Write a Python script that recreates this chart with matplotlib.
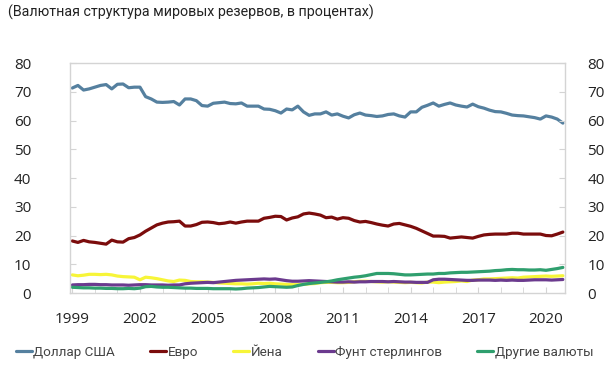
import matplotlib.pyplot as plt
import numpy as np

# Валютная структура мировых резервов, поквартально 1999 Q1 - 2020 Q4
dollar = [71.3, 72.2, 70.6, 71.0, 71.6, 72.2, 72.5, 71.0, 72.6, 72.7, 71.4, 71.6,
          71.6, 68.3, 67.5, 66.4, 66.3, 66.4, 66.6, 65.4, 67.5, 67.5, 66.9, 65.2,
          65.0, 66.0, 66.2, 66.4, 65.9, 65.8, 66.1, 65.0, 65.0, 65.0, 64.0, 63.9,
          63.4, 62.6, 64.0, 63.7, 65.0, 63.0, 61.8, 62.3, 62.3, 63.0, 61.9, 62.3,
          61.5, 60.9, 62.0, 62.6, 61.9, 61.7, 61.4, 61.6, 62.1, 62.3, 61.6, 61.2,
          63.0, 63.0, 64.6, 65.3, 66.1, 65.0, 65.6, 66.1, 65.4, 65.0, 64.7, 65.7,
          64.8, 64.3, 63.6, 63.1, 63.0, 62.5, 61.9, 61.7, 61.6, 61.3, 61.0, 60.5,
          61.6, 61.2, 60.5, 59.1]
euro = [18.1, 17.6, 18.3, 17.8, 17.6, 17.3, 17.0, 18.4, 17.8, 17.7, 18.9, 19.3,
        20.2, 21.5, 22.6, 23.7, 24.3, 24.7, 24.8, 25.0, 23.3, 23.3, 23.8, 24.6,
        24.7, 24.5, 24.1, 24.3, 24.7, 24.3, 24.7, 25.0, 25.0, 25.0, 26.0, 26.3,
        26.7, 26.6, 25.4, 26.1, 26.5, 27.5, 27.8, 27.5, 27.1, 26.2, 26.4, 25.7,
        26.2, 26.0, 25.2, 24.7, 24.9, 24.5, 24.0, 23.6, 23.3, 24.0, 24.2, 23.7,
        23.2, 22.5, 21.6, 20.7, 19.8, 19.8, 19.7, 19.1, 19.3, 19.5, 19.3, 19.1,
        19.7, 20.2, 20.4, 20.5, 20.5, 20.5, 20.8, 20.8, 20.5, 20.5, 20.5, 20.5,
        20.0, 19.9, 20.5, 21.2]
yen = [6.3, 6.0, 6.2, 6.5, 6.5, 6.4, 6.5, 6.3, 5.9, 5.7, 5.6, 5.5,
       4.6, 5.5, 5.3, 5.0, 4.6, 4.2, 4.0, 4.5, 4.4, 4.0, 3.9, 3.9,
       3.8, 3.7, 3.5, 3.4, 3.3, 3.2, 3.2, 3.1, 3.2, 3.4, 3.3, 3.4,
       3.2, 3.1, 3.0, 2.9, 2.9, 3.0, 3.2, 3.3, 3.6, 3.7, 3.7, 3.6,
       3.6, 3.7, 3.9, 4.1, 4.1, 4.0, 3.9, 3.8, 3.9, 3.8, 3.7, 3.6,
       3.7, 3.6, 3.5, 3.8, 3.8, 3.6, 3.8, 3.9, 4.0, 4.2, 4.0, 4.5,
       4.6, 4.9, 4.9, 5.0, 5.1, 5.2, 5.3, 5.2, 5.5, 5.6, 5.7, 5.8,
       5.9, 5.8, 5.9, 6.0]
pound = [2.8, 2.9, 2.9, 3.0, 3.0, 2.9, 2.9, 2.8, 2.8, 2.8, 2.7, 2.8,
         2.9, 2.9, 2.8, 2.8, 2.8, 2.7, 2.8, 2.8, 3.2, 3.4, 3.5, 3.6,
         3.7, 3.6, 3.8, 4.0, 4.2, 4.4, 4.5, 4.6, 4.7, 4.8, 4.9, 4.8,
         4.9, 4.6, 4.3, 4.1, 4.1, 4.2, 4.3, 4.2, 4.1, 4.0, 3.9, 3.8,
         3.8, 3.9, 3.8, 3.9, 3.9, 4.0, 4.0, 4.0, 3.9, 4.0, 3.9, 3.8,
         3.8, 3.7, 3.7, 3.7, 4.6, 4.8, 4.8, 4.7, 4.6, 4.5, 4.4, 4.4,
         4.5, 4.5, 4.5, 4.4, 4.5, 4.4, 4.5, 4.4, 4.4, 4.5, 4.6, 4.6,
         4.6, 4.5, 4.6, 4.7]
other = [2.0, 1.9, 1.8, 1.8, 1.7, 1.7, 1.6, 1.6, 1.5, 1.5, 1.6, 1.5,
         1.7, 2.2, 2.3, 2.1, 2.0, 2.0, 1.9, 1.8, 1.7, 1.7, 1.6, 1.6,
         1.6, 1.5, 1.5, 1.5, 1.5, 1.4, 1.5, 1.7, 1.8, 1.9, 2.1, 2.3,
         2.2, 2.1, 2.0, 2.1, 2.6, 3.0, 3.3, 3.5, 3.7, 3.9, 4.2, 4.6,
         4.9, 5.2, 5.5, 5.7, 6.0, 6.4, 6.8, 6.8, 6.8, 6.7, 6.5, 6.3,
         6.3, 6.4, 6.5, 6.6, 6.6, 6.8, 6.8, 7.0, 7.1, 7.2, 7.2, 7.3,
         7.4, 7.5, 7.6, 7.8, 7.9, 8.1, 8.2, 8.1, 8.1, 8.0, 8.0, 8.1,
         7.9, 8.2, 8.5, 8.9]

quarters = 1999 + np.arange(len(dollar)) / 4
year_labels = [1999, 2002, 2005, 2008, 2011, 2014, 2017, 2020]

series = [(dollar, "Доллар США", "#55809f"),
          (euro, "Евро", "#7b0c0c"),
          (yen, "Йена", "#f7f538"),
          (pound, "Фунт стерлингов", "#6b3a8e"),
          (other, "Другие валюты", "#2f9f6e")]

grey = "#d4d4d4"

fig = plt.figure(figsize=(6.09, 3.67), dpi=100)
ax = fig.add_axes([0.115, 0.2016, 0.813, 0.6267])

for vals, name, col in series:
    ax.plot(quarters, vals, color=col, lw=2.3, label=name, solid_capstyle="round")

ax.set_ylim(0, 80)
ax.set_xlim(1998.9, 2020.85)
ax.set_yticks(range(0, 81, 10))
ax.set_xticks(year_labels)
ax.set_xticks(range(1999, 2021), minor=True)

for s in ax.spines.values():
    s.set_color(grey)
    s.set_linewidth(1.0)

ax.tick_params(axis="y", direction="in", length=4, color=grey,
               labelsize=11, pad=28, labelcolor="#222222")
ax.tick_params(axis="x", which="both", direction="in", length=4,
               color=grey, labelsize=11, pad=14, labelcolor="#222222")

# правая шкала
ax2 = ax.twinx()
ax2.set_ylim(0, 80)
ax2.set_yticks(range(0, 81, 10))
ax2.tick_params(axis="y", direction="in", length=4, color=grey,
                labelsize=11, pad=16, labelcolor="#222222")
for s in ax2.spines.values():
    s.set_visible(False)

for lab in ax.get_xticklabels() + ax.get_yticklabels() + ax2.get_yticklabels():
    lab.set_fontfamily("Open Sans")

fig.text(0.013, 0.967, "(Валютная структура мировых резервов, в процентах)",
         fontsize=10.3, family="Roboto", color="#222222", va="center", ha="left")

leg = ax.legend(loc="center", bbox_to_anchor=(0.5, 0.04), ncol=5, frameon=False,
                bbox_transform=fig.transFigure,
                handlelength=1.2, handletextpad=0.1, columnspacing=2.6,
                prop={"family": "Roboto", "size": 9.7})
for t in leg.get_texts():
    t.set_color("#444444")

fig.savefig("out.png", dpi=100)
